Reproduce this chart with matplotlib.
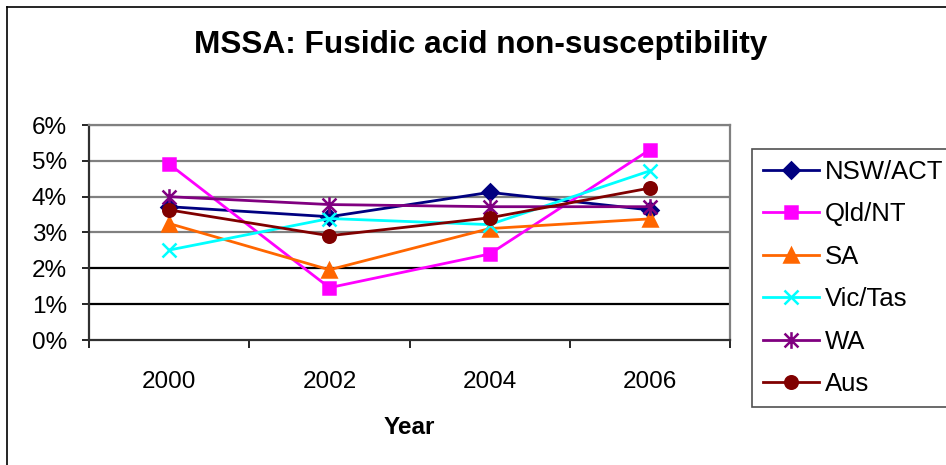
import matplotlib
matplotlib.use("Agg")
import matplotlib.pyplot as plt
from matplotlib.path import Path
from matplotlib.lines import Line2D

plt.rcParams['font.family'] = ['Liberation Sans', 'DejaVu Sans']

# fusidic acid non-susceptibility by region (fraction of isolates)
years = ["2000", "2002", "2004", "2006"]
nsw_act = [3.72, 3.44, 4.12, 3.63]
qld_nt = [4.91, 1.46, 2.40, 5.31]
sa = [3.25, 1.96, 3.11, 3.38]
vic_tas = [2.51, 3.39, 3.22, 4.72]
wa = [4.00, 3.78, 3.72, 3.72]
aus = [3.63, 2.91, 3.41, 4.24]

# Excel style "star": an X with a vertical bar through it
star = Path([(-1, -1), (1, 1), (-1, 1), (1, -1), (0, -1.2), (0, 1.2)],
            [Path.MOVETO, Path.LINETO, Path.MOVETO, Path.LINETO, Path.MOVETO, Path.LINETO])

series = [
    ("NSW/ACT", nsw_act, "#000080", "D", 8),
    ("Qld/NT", qld_nt, "#FF00FF", "s", 9),
    ("SA", sa, "#FF6600", "^", 10),
    ("Vic/Tas", vic_tas, "#00FFFF", "x", 10),
    ("WA", wa, "#800080", star, 12),
    ("Aus", aus, "#800000", "o", 9),
]

fig = plt.figure(figsize=(9.46, 4.65), dpi=100)
ax = fig.add_axes([89 / 946, 1 - 340 / 465, (730 - 89) / 946, (340 - 125) / 465])

# horizontal gridlines
for v in range(1, 7):
    ax.axhline(v, color="#808080" if v >= 3 else "black", lw=1.6, zorder=1)

xs = list(range(len(years)))
for name, vals, col, mk, ms in series:
    ax.plot(xs, vals, color=col, lw=2, marker=mk, markersize=ms,
            markerfacecolor=col, markeredgecolor=col, markeredgewidth=1.8,
            label=name, zorder=3)

ax.set_xlim(-0.5, 3.5)
ax.set_ylim(0, 6)
ax.set_yticks(range(0, 7))
ax.set_yticklabels([f"{v}%" for v in range(0, 7)])
ax.set_xticks(xs)
ax.set_xticklabels(years)
ax.set_xticks([-0.5, 0.5, 1.5, 2.5, 3.5], minor=True)
ax.tick_params(axis="x", which="major", length=0, pad=22, labelsize=17.5)
ax.tick_params(axis="x", which="minor", length=6, width=1.2, direction="out")
ax.tick_params(axis="y", length=5, width=1.2, direction="out", pad=11, labelsize=17.5)

for s in ("top", "right"):
    ax.spines[s].set_color("#808080")
    ax.spines[s].set_linewidth(1.6)
for s in ("left", "bottom"):
    ax.spines[s].set_color("#303030")
    ax.spines[s].set_linewidth(1.6)

ax.set_xlabel("Year", fontsize=17.5, fontweight="bold", labelpad=17)
fig.text(481 / 946, 1 - 45 / 465, "MSSA: Fusidic acid non-susceptibility",
         ha="center", va="center", fontsize=22.8, fontweight="bold")

leg = fig.legend(loc="upper left", bbox_to_anchor=(752 / 946, 1 - 149 / 465),
                 fontsize=18.5, handlelength=2.2, handletextpad=0.2,
                 labelspacing=0.72, borderpad=0.42, borderaxespad=0,
                 fancybox=False, framealpha=1)
leg.get_frame().set_edgecolor("#505050")
leg.get_frame().set_linewidth(1.2)

# chart area border (left and top edges)
fig.add_artist(Line2D([7 / 946, 7 / 946], [0, 1 - 7 / 465], color="black", lw=1.2))
fig.add_artist(Line2D([7 / 946, 1], [1 - 7 / 465, 1 - 7 / 465], color="black", lw=1.2))

fig.savefig("out.png", dpi=100)
